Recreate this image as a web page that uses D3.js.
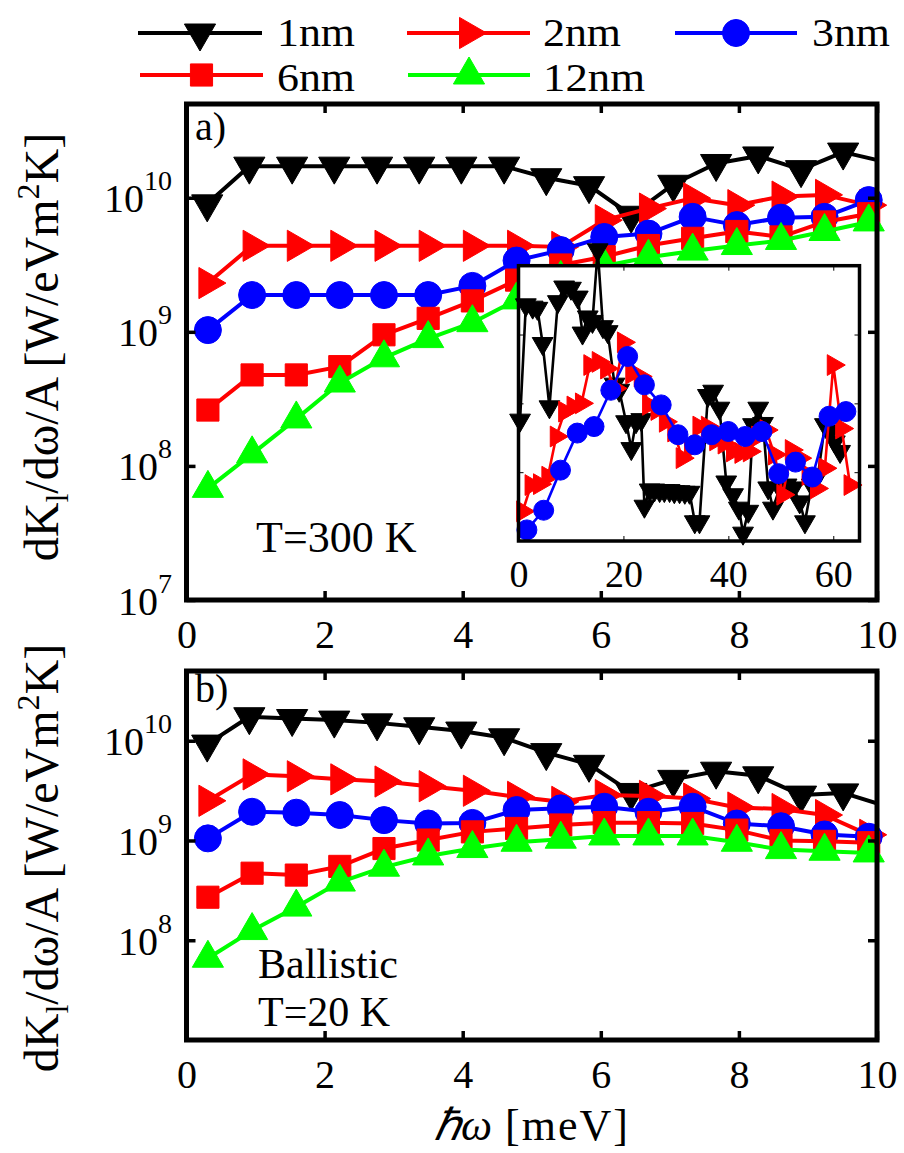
<!DOCTYPE html>
<html>
<head>
<meta charset="utf-8">
<script src="https://cdn.jsdelivr.net/npm/d3@7"></script>
<style>
  body { margin: 0; background: #fff; }
  svg { display: block; font-family: "Liberation Serif", "Times New Roman", serif; }
</style>
</head>
<body>
<svg id="chart" width="904" height="1153"></svg>
<script>
// ---- photon energy grids (meV) ----
const energy1nm = [0.30, 0.91, 1.53, 2.14, 2.76, 3.37, 3.98, 4.60, 5.21, 5.83, 6.44, 7.05, 7.67, 8.28, 8.90, 9.51, 10.12];
const energy    = [0.31, 0.95, 1.59, 2.22, 2.86, 3.50, 4.14, 4.78, 5.42, 6.05, 6.69, 7.33, 7.97, 8.61, 9.24, 9.88];

// ---- panel a: T = 300 K, spectral conductance per area [W/eVm^2K] ----
const k300_1nm  = [9.0e9, 1.72e10, 1.72e10, 1.72e10, 1.72e10, 1.72e10, 1.72e10, 1.72e10, 1.41e10, 1.23e10, 7.4e9, 1.26e10, 1.8e10, 2.05e10, 1.62e10, 2.19e10, 1.85e10];
const k300_2nm  = [2.31e9, 4.38e9, 4.38e9, 4.38e9, 4.38e9, 4.38e9, 4.38e9, 4.38e9, 4.3e9, 6.8e9, 8.3e9, 9.9e9, 8.8e9, 1.02e10, 1.05e10, 8.8e9];
const k300_3nm  = [1.03e9, 1.88e9, 1.88e9, 1.88e9, 1.88e9, 1.88e9, 2.2e9, 3.4e9, 4.07e9, 5.1e9, 5.4e9, 7.2e9, 6.25e9, 7.1e9, 7.2e9, 9.6e9];
const k300_6nm  = [2.61e8, 4.77e8, 4.77e8, 5.5e8, 9.5e8, 1.26e9, 1.7e9, 2.43e9, 3.15e9, 3.63e9, 4.4e9, 4.98e9, 5.6e9, 5.1e9, 6.6e9, 7.6e9];
const k300_12nm = [6.8e7, 1.23e8, 2.24e8, 4.15e8, 6.4e8, 8.9e8, 1.17e9, 1.73e9, 2.5e9, 3.1e9, 3.6e9, 4.0e9, 4.4e9, 4.8e9, 5.6e9, 6.6e9];

// ---- panel b: ballistic, T = 20 K ----
const k20_1nm  = [9.25e9, 1.74e10, 1.67e10, 1.61e10, 1.51e10, 1.38e10, 1.25e10, 1.07e10, 7.6e9, 5.8e9, 3.03e9, 4.1e9, 4.95e9, 4.45e9, 2.85e9, 3.0e9, 2.22e9];
const k20_2nm  = [2.5e9, 4.6e9, 4.4e9, 4.1e9, 3.9e9, 3.5e9, 3.15e9, 2.74e9, 2.44e9, 2.85e9, 2.8e9, 2.63e9, 2.14e9, 2.07e9, 1.8e9, 1.14e9];
const k20_3nm  = [1.05e9, 1.94e9, 1.9e9, 1.8e9, 1.6e9, 1.48e9, 1.5e9, 2.02e9, 2.1e9, 2.18e9, 1.94e9, 2.18e9, 1.48e9, 1.39e9, 1.15e9, 1.09e9];
const k20_6nm  = [2.7e8, 4.7e8, 4.5e8, 5.5e8, 8.3e8, 1.01e9, 1.22e9, 1.32e9, 1.43e9, 1.51e9, 1.51e9, 1.48e9, 1.27e9, 1.0e9, 9.8e8, 9.5e8];
const k20_12nm = [6.6e7, 1.25e8, 2.15e8, 3.83e8, 5.4e8, 7.0e8, 8.3e8, 9.6e8, 1.03e9, 1.11e9, 1.11e9, 1.11e9, 9.6e8, 8.1e8, 7.8e8, 7.5e8];

// ---- inset: full spectrum at 300 K ----
const insetEnergy1nm = [0.3, 1.4, 2.7, 3.6, 4.6, 5.9, 7.5, 8.7, 10.0, 11.3, 12.2, 13.2, 14.1, 15.1, 16.1, 17.0, 18.3, 19.2, 20.5, 21.5, 22.4, 23.4, 24.0, 25.0, 25.9, 26.9, 27.8, 28.8, 29.7, 30.7, 31.7, 32.6, 33.6, 34.5, 36.1, 37.1, 38.3, 39.6, 40.9, 42.0, 42.8, 43.8, 44.7, 45.7, 46.6, 47.6, 48.5, 49.8, 51.1, 52.4, 53.6, 54.6, 55.9, 57.1, 58.4, 59.4, 60.3, 61.3];
const insetK1nm = [5.7e8, 2.7e10, 2.5e10, 2.4e10, 7.4e9, 8.9e8, 3.0e10, 4.9e10, 4.7e10, 3.5e10, 1.05e10, 1.8e10, 1.55e10, 1.7e11, 1.3e10, 1.1e10, 1.9e9, 1.55e9, 5.4e8, 2.2e8, 5.4e8, 5.8e8, 3.2e7, 5.5e7, 5.5e7, 5.4e7, 5.4e7, 5.4e7, 5.2e7, 5.2e7, 5.1e7, 5.1e7, 1.9e7, 1.9e7, 1.3e9, 1.5e9, 8.5e8, 7.2e7, 4.7e7, 3.0e7, 1.3e7, 2.7e7, 4.9e8, 8.5e8, 5.1e8, 5.9e7, 3.0e7, 5.9e7, 6.5e7, 5.9e7, 3.7e7, 1.9e7, 6.5e7, 9.1e7, 4.9e8, 3.9e8, 2.75e8, 2.0e8];
const insetEnergy2nm = [0.8, 2.4, 4.0, 5.6, 7.2, 8.8, 10.4, 12.0, 13.6, 15.2, 16.8, 18.4, 20.0, 21.6, 23.2, 24.8, 26.4, 28.0, 29.6, 31.2, 32.8, 34.4, 36.0, 37.6, 39.2, 40.8, 42.4, 44.0, 45.6, 47.2, 48.8, 50.4, 52.0, 53.6, 55.2, 56.8, 58.4, 60.0, 61.6, 63.2];
const insetK2nm = [2.7e7, 6.5e7, 6.7e7, 8.6e7, 3.3e8, 7.6e8, 9.0e8, 1.0e9, 3.6e9, 4.0e9, 3.2e9, 1.65e9, 7.7e9, 2.7e9, 2.45e9, 9.5e8, 8.0e8, 5.4e8, 3.9e8, 1.6e8, 2.2e8, 4.6e8, 4.6e8, 2.9e8, 2.6e8, 2.0e8, 1.9e8, 2.0e8, 3.3e8, 4.1e8, 1.8e8, 4.7e7, 2.1e8, 1.6e8, 9.1e7, 5.8e7, 1.14e8, 3.6e9, 4.3e8, 6.5e7];
const insetEnergy3nm = [1.6, 4.8, 8.0, 11.2, 14.4, 17.6, 20.8, 24.0, 27.2, 30.4, 33.6, 36.8, 40.0, 43.2, 46.4, 49.6, 52.8, 56.0, 59.2, 62.4];
const insetK3nm = [1.45e7, 2.8e7, 1.07e8, 3.7e8, 4.6e8, 1.55e9, 4.8e9, 1.86e9, 9.5e8, 3.5e8, 2.5e8, 3.5e8, 3.9e8, 3.3e8, 3.9e8, 9.5e7, 1.4e8, 8.5e7, 6.5e8, 7.6e8];

// ---- ticks and labels ----
const seriesNames = ["1nm", "2nm", "3nm", "6nm", "12nm"];
const seriesColors = ["#000000", "#ff0000", "#0000ff", "#ff0000", "#00ff00"];
const seriesMarkers = ["down", "right", "circle", "square", "up"];
const xTicks = [0, 2, 4, 6, 8, 10];
const yTicksA = [1e7, 1e8, 1e9, 1e10];
const yTicksB = [1e8, 1e9, 1e10];
const insetXTicks = [0, 20, 40, 60];
const insetYTicks = [1e8, 1e9, 1e10];

const svg = d3.select("#chart");
const frameL = 186.5, frameR = 877;
const x = d3.scaleLinear().domain([0, 10]).range([frameL, frameR]);

// marker shape centred on its centroid; size = triangle height / circle diameter / square side
function marker(kind, size) {
  if (kind === "circle") return { d: d3.symbol(d3.symbolCircle, Math.PI * (size / 2) ** 2)(), rot: 0 };
  if (kind === "square") return { d: d3.symbol(d3.symbolSquare, size * size)(), rot: 0 };
  const d = d3.symbol(d3.symbolTriangle, size * size / Math.sqrt(3))();
  return { d, rot: kind === "down" ? 180 : kind === "right" ? 90 : 0 };
}
function markerSize(kind, base) {
  return kind === "square" ? base * 0.82 : base;
}

const panels = [
  { id: "a", top: 104, bottom: 600, tag: "a)", tagY: 140, yTicks: yTicksA, labelY: 347,
    series: [k300_1nm, k300_2nm, k300_3nm, k300_6nm, k300_12nm],
    notes: [{ text: "T=300 K", x: 256, y: 552, size: 44 }] },
  { id: "b", top: 671, bottom: 1040, tag: "b)", tagY: 702, yTicks: yTicksB, labelY: 858,
    series: [k20_1nm, k20_2nm, k20_3nm, k20_6nm, k20_12nm],
    notes: [{ text: "Ballistic", x: 258, y: 978, size: 42 }, { text: "T=20 K", x: 258, y: 1026, size: 42 }] }
];

panels.forEach(p => {
  const y = d3.scaleLog().domain([1e7, 5e10]).range([p.bottom, p.top]);
  const clipId = "clip-" + p.id;
  svg.append("clipPath").attr("id", clipId).append("rect")
    .attr("x", frameL).attr("y", p.top).attr("width", frameR - frameL).attr("height", p.bottom - p.top);

  const g = svg.append("g");
  p.series.forEach((vals, i) => {
    const xs = i === 0 ? energy1nm : energy;
    const pts = xs.map((e, j) => [e, vals[j]]);
    g.append("path")
      .attr("clip-path", `url(#${clipId})`)
      .attr("d", d3.line().x(d => x(d[0])).y(d => y(d[1]))(pts))
      .attr("fill", "none").attr("stroke", seriesColors[i])
      .attr("stroke-width", 4).attr("stroke-linejoin", "round");
    const m = marker(seriesMarkers[i], markerSize(seriesMarkers[i], 27));
    g.selectAll(null).data(pts.filter(d => d[0] <= 10)).join("path")
      .attr("d", m.d)
      .attr("transform", d => `translate(${x(d[0])},${y(d[1])}) rotate(${m.rot})`)
      .attr("fill", seriesColors[i]).attr("stroke", seriesColors[i]).attr("stroke-width", 1);
  });

  // axes: inward ticks on all four sides
  const bottomAxis = svg.append("g").attr("transform", `translate(0,${p.bottom})`)
    .call(d3.axisBottom(x).tickValues(xTicks).tickSize(-9).tickPadding(20).tickFormat(d3.format("d")));
  bottomAxis.selectAll("text").attr("font-size", 40).attr("font-family", "Liberation Serif, serif").attr("fill", "#000");
  svg.append("g").attr("transform", `translate(0,${p.top})`)
    .call(d3.axisTop(x).tickValues(xTicks).tickSize(-9).tickFormat(""));
  const leftAxis = svg.append("g").attr("transform", `translate(${frameL},0)`)
    .call(d3.axisLeft(y).tickValues(p.yTicks).tickSize(-9).tickPadding(14.5).tickFormat(""));
  leftAxis.selectAll(".tick text").each(function (d) {
    const t = d3.select(this).attr("font-size", 40).attr("font-family", "Liberation Serif, serif")
      .attr("fill", "#000").attr("dy", 14);
    t.append("tspan").text("10");
    t.append("tspan").attr("font-size", 28).attr("dy", -22).text(Math.round(Math.log10(d)));
  });
  svg.append("g").attr("transform", `translate(${frameR},0)`)
    .call(d3.axisRight(y).tickValues(p.yTicks).tickSize(-9).tickFormat(""));
  svg.selectAll(".domain").remove();
  svg.selectAll(".tick line").attr("stroke", "#000").attr("stroke-width", 3.5);

  // frame
  svg.append("rect").attr("x", frameL).attr("y", p.top)
    .attr("width", frameR - frameL).attr("height", p.bottom - p.top)
    .attr("fill", "none").attr("stroke", "#000").attr("stroke-width", 5);

  svg.append("text").attr("x", 195).attr("y", p.tagY).attr("font-size", 40).text(p.tag);
  p.notes.forEach(n => svg.append("text").attr("x", n.x).attr("y", n.y).attr("font-size", n.size).text(n.text));

  // y-axis title
  const yl = svg.append("text").attr("transform", `translate(58,${p.labelY}) rotate(-90)`)
    .attr("text-anchor", "middle").attr("font-size", 48);
  yl.append("tspan").text("dK");
  yl.append("tspan").attr("font-size", 32).attr("dy", 10).text("l");
  yl.append("tspan").attr("dy", -10).text("/dω/A [W/eVm");
  yl.append("tspan").attr("font-size", 32).attr("dy", -19).text("2");
  yl.append("tspan").attr("dy", 19).text("K]");
});

// ---- inset ----
const inset = { left: 518.5, right: 859.5, top: 265.7, bottom: 541 };
const xi = d3.scaleLinear().domain([0, 65]).range([inset.left, inset.right]);
const yi = d3.scaleLog().domain([1e7, 1e11]).range([inset.bottom, inset.top]);
svg.append("rect").attr("x", inset.left).attr("y", inset.top)
  .attr("width", inset.right - inset.left).attr("height", inset.bottom - inset.top)
  .attr("fill", "#fff");
const insetSeries = [
  { xs: insetEnergy1nm, ys: insetK1nm, s: 0 },
  { xs: insetEnergy2nm, ys: insetK2nm, s: 1 },
  { xs: insetEnergy3nm, ys: insetK3nm, s: 2 }
];
const gi = svg.append("g");
insetSeries.forEach(ser => {
  const pts = ser.xs.map((e, j) => [e, ser.ys[j]]);
  const col = seriesColors[ser.s];
  gi.append("path")
    .attr("d", d3.line().x(d => xi(d[0])).y(d => yi(d[1]))(pts))
    .attr("fill", "none").attr("stroke", col).attr("stroke-width", 2.6).attr("stroke-linejoin", "round");
  const kind = seriesMarkers[ser.s];
  const m = marker(kind, kind === "circle" ? 20 : 18);
  gi.selectAll(null).data(pts).join("path")
    .attr("d", m.d)
    .attr("transform", d => `translate(${xi(d[0])},${yi(d[1])}) rotate(${m.rot})`)
    .attr("fill", col).attr("stroke", col).attr("stroke-width", 1);
});
const ib = svg.append("g").attr("transform", `translate(0,${inset.bottom})`)
  .call(d3.axisBottom(xi).tickValues(insetXTicks).tickSize(-5).tickPadding(19).tickFormat(d3.format("d")));
ib.selectAll("text").attr("font-size", 38).attr("font-family", "Liberation Serif, serif").attr("fill", "#000");
svg.append("g").attr("transform", `translate(0,${inset.top})`)
  .call(d3.axisTop(xi).tickValues(insetXTicks).tickSize(-5).tickFormat(""));
svg.append("g").attr("transform", `translate(${inset.left},0)`)
  .call(d3.axisLeft(yi).tickValues(insetYTicks).tickSize(-5).tickFormat(""));
svg.append("g").attr("transform", `translate(${inset.right},0)`)
  .call(d3.axisRight(yi).tickValues(insetYTicks).tickSize(-5).tickFormat(""));
svg.selectAll(".domain").remove();
svg.selectAll(".tick line").attr("stroke", "#000");
svg.append("rect").attr("x", inset.left).attr("y", inset.top)
  .attr("width", inset.right - inset.left).attr("height", inset.bottom - inset.top)
  .attr("fill", "none").attr("stroke", "#000").attr("stroke-width", 3.5);

// ---- x-axis title ----
const xl = svg.append("text").attr("x", 532).attr("y", 1140).attr("text-anchor", "middle").attr("font-size", 44);
xl.append("tspan").attr("font-style", "italic").text("ℏω");
xl.append("tspan").attr("letter-spacing", 2).text(" [meV]");

// ---- legend ----
const legendItems = [
  { s: 0, x0: 138, x1: 262, tx: 277, y: 33, base: 13 },
  { s: 1, x0: 407, x1: 530, tx: 543, y: 33, base: 13 },
  { s: 2, x0: 675, x1: 797, tx: 812, y: 33, base: 13 },
  { s: 3, x0: 140, x1: 263, tx: 277, y: 75, base: 16 },
  { s: 4, x0: 408, x1: 530, tx: 543, y: 75, base: 16 }
];
const lg = svg.append("g");
legendItems.forEach(it => {
  const col = seriesColors[it.s];
  lg.append("line").attr("x1", it.x0).attr("x2", it.x1).attr("y1", it.y).attr("y2", it.y)
    .attr("stroke", col).attr("stroke-width", 4);
  const kind = seriesMarkers[it.s];
  const m = marker(kind, markerSize(kind, 27));
  lg.append("path").attr("d", m.d)
    .attr("transform", `translate(${(it.x0 + it.x1) / 2},${it.y}) rotate(${m.rot})`)
    .attr("fill", col).attr("stroke", col).attr("stroke-width", 1);
  lg.append("text").attr("x", it.tx).attr("y", it.y + it.base).attr("font-size", 41)
    .attr("textLength", it.s === 4 ? 102 : 78).attr("lengthAdjust", "spacingAndGlyphs")
    .text(seriesNames[it.s]);
});
</script>
</body>
</html>
